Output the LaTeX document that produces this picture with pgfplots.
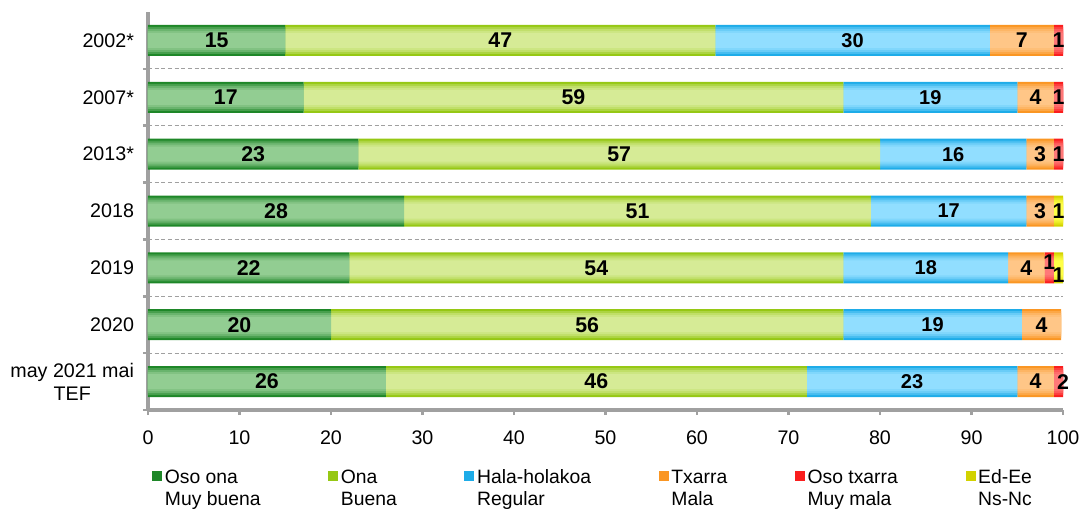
\documentclass[border=0pt]{standalone}
\usepackage{pgfplots}
\pgfplotsset{compat=1.18}
\usepackage{pgfplotstable}
\usepackage{fontspec}
\setmainfont{Liberation Sans}

\definecolor{ogD}{RGB}{30,135,40}
\definecolor{ogL}{RGB}{146,205,146}
\definecolor{lgD}{RGB}{150,200,20}
\definecolor{lgL}{RGB}{214,235,150}
\definecolor{blD}{RGB}{30,172,232}
\definecolor{blL}{RGB}{145,222,255}
\definecolor{orD}{RGB}{250,150,35}
\definecolor{orL}{RGB}{255,198,135}
\definecolor{rdD}{RGB}{250,30,30}
\definecolor{rdL}{RGB}{255,120,120}
\definecolor{ywD}{RGB}{210,210,0}
\definecolor{ywL}{RGB}{255,255,70}
\definecolor{axgray}{RGB}{160,160,160}

\pgfplotstableread{
y v
0 15
1 17
2 23
3 28
4 22
5 20
6 26
}\tOsoOna
\pgfplotstableread{
y v
0 47
1 59
2 57
3 51
4 54
5 56
6 46
}\tOna
\pgfplotstableread{
y v
0 30
1 19
2 16
3 17
4 18
5 19.5
6 23
}\tHala
\pgfplotstableread{
y v
0 7
1 4
2 3
3 3
4 4
5 4.3
6 4
}\tTxarra
\pgfplotstableread{
y v
0 1
1 1
2 1
3 0
4 1
5 0
6 1
}\tOsoTxarra
\pgfplotstableread{
y v
0 0
1 0
2 0
3 1
4 1
5 0
6 0
}\tEdEe
\pgfplotstableread{
x y label
7.5 0 15
38.5 0 47
95.5 0 7
99.5 0 1
8.5 1 17
46.5 1 59
97 1 4
99.5 1 1
11.5 2 23
51.5 2 57
97.5 2 3
99.5 2 1
14 3 28
53.5 3 51
97.5 3 3
99.5 3 1
11 4 22
49 4 54
96 4 4
98.5 3.9 1
99.5 4.12 1
10 5 20
48 5 56
97.65 5 4
13 6 26
49 6 46
97 6 4
100 6 2
}\tLabels
\pgfplotstableread{
x y label
77 0 30
85.5 1 19
88 2 16
87.5 3 17
85 4 18
85.75 5 19
83.5 6 23
}\tLabelsBlue

\pgfplotsset{base/.style={at={(0pt,0pt)}, anchor=south west,
  scale only axis, width=686.25pt, height=298.5pt,
  xmin=0, xmax=100, ymin=-0.5, ymax=6.5, y dir=reverse}}

\newcommand\barlayer[2]{%
\begin{axis}[base, hide axis, xbar stacked, bar width=#1]
\addplot[fill=ogL!#2!ogD, draw=none] table[x=v, y=y] {\tOsoOna};
\addplot[fill=lgL!#2!lgD, draw=none] table[x=v, y=y] {\tOna};
\addplot[fill=blL!#2!blD, draw=none] table[x=v, y=y] {\tHala};
\addplot[fill=orL!#2!orD, draw=none] table[x=v, y=y] {\tTxarra};
\addplot[fill=rdL!#2!rdD, draw=none] table[x=v, y=y] {\tOsoTxarra};
\addplot[fill=ywL!#2!ywD, draw=none] table[x=v, y=y] {\tEdEe};
\end{axis}}

\newcommand\legtwo[2]{\begin{tabular}[t]{@{}l@{}}#1\\#2\end{tabular}}

\begin{document}
\begin{tikzpicture}
\useasboundingbox (-111pt,-75pt) rectangle (703.5pt,307.5pt);
\begin{axis}[
  base,
  xbar stacked, bar width=23.25pt,
  axis x line=bottom, axis y line=left,
  axis line style={-, draw=axgray, line width=3pt},
  /pgf/number format/assume math mode=true,
  tick label style={font=\fontsize{14.75pt}{17pt}\selectfont},
  xticklabel style={yshift=-8pt},
  xtick={0,10,...,100},
  tick align=outside, major tick length=3.75pt,
  tick style={draw=axgray, line width=2pt},
  ytick={0.5,1.5,...,6.5}, yticklabels={},
  ymajorgrids, grid style={draw=axgray, line width=0.6pt, dash pattern=on 3pt off 2pt},
  extra y ticks={0,1,2,3,4,5,6},
  extra y tick labels={2002*,2007*,2013*,2018,2019,2020,{may 2021 mai\\TEF}},
  extra y tick style={grid=none, major tick length=0pt},
  yticklabel style={align=center, xshift=-7pt},
  legend style={at={(0.0,-0.131)}, anchor=north west, draw=none, fill=none,
    font=\fontsize{14.5pt}{16.5pt}\selectfont,
    /tikz/every even column/.append style={column sep=48.75pt}},
  legend columns=6,
  legend image code/.code={\fill[#1] (0pt,-3.75pt) rectangle (7.5pt,3.75pt);},
]
\addplot[fill=ogD, draw=none] table[x=v, y=y] {\tOsoOna};
\addlegendentry{\legtwo{Oso ona}{Muy buena}}
\addplot[fill=lgD, draw=none] table[x=v, y=y] {\tOna};
\addlegendentry{\legtwo{Ona}{Buena}}
\addplot[fill=blD, draw=none] table[x=v, y=y] {\tHala};
\addlegendentry{\legtwo{Hala-holakoa}{Regular}}
\addplot[fill=orD, draw=none] table[x=v, y=y] {\tTxarra};
\addlegendentry{\legtwo{Txarra}{Mala}}
\addplot[fill=rdD, draw=none] table[x=v, y=y] {\tOsoTxarra};
\addlegendentry{\legtwo{Oso txarra}{Muy mala}}
\addplot[fill=ywD, draw=none] table[x=v, y=y] {\tEdEe};
\addlegendentry{\legtwo{Ed-Ee}{Ns-Nc}}
\end{axis}
\barlayer{20.25pt}{35}
\barlayer{17.25pt}{65}
\barlayer{14.25pt}{85}
\barlayer{11.25pt}{100}
\begin{axis}[base, hide axis]
\addplot[only marks, mark=none, nodes near coords, point meta=explicit symbolic,
  nodes near coords style={anchor=center, font=\fontsize{16pt}{16pt}\selectfont\bfseries, text=black}]
  table[x=x, y=y, meta=label] {\tLabels};
\addplot[only marks, mark=none, nodes near coords, point meta=explicit symbolic,
  nodes near coords style={anchor=center, font=\fontsize{15pt}{15pt}\selectfont\bfseries, text=black}]
  table[x=x, y=y, meta=label] {\tLabelsBlue};
\end{axis}
\end{tikzpicture}
\end{document}
